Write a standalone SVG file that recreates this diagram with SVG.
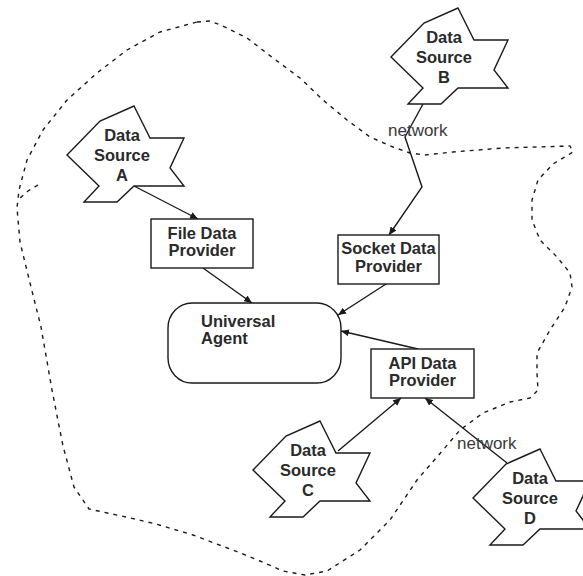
<svg xmlns="http://www.w3.org/2000/svg" xmlns:xlink="http://www.w3.org/1999/xlink" width="583" height="576" viewBox="0 0 583 576">
  <style>
    .shape { fill: #ffffff; stroke: #1a1a1a; stroke-width: 1.4; stroke-linejoin: miter; }
    .label { font-family: "Liberation Sans", Arial, sans-serif; font-size: 16.5px; font-weight: bold; fill: #2a2a2a; text-anchor: middle; }
    .label-left { font-family: "Liberation Sans", Arial, sans-serif; font-size: 16.5px; font-weight: bold; fill: #2a2a2a; }
    .net { font-family: "Liberation Sans", Arial, sans-serif; font-size: 17px; fill: #3a3a3a; }
    .edge { fill: none; stroke: #1a1a1a; stroke-width: 1.4; marker-end: url(#head); }
    .edge-plain { fill: none; stroke: #1a1a1a; stroke-width: 1.4; }
    .boundary { fill: none; stroke: #1a1a1a; stroke-width: 1.4; stroke-dasharray: 4 5; stroke-linejoin: round; }
  </style>
  <defs>
    <marker id="head" markerUnits="userSpaceOnUse" markerWidth="9" markerHeight="7" refX="8" refY="3.5" orient="auto">
      <path d="M0,0 L8,3.5 L0,7 z" fill="#1a1a1a"/>
    </marker>
    <!-- star-like data source outline, anchored at its top vertex -->
    <polygon id="source" points="0,0 16,32 50,32 36,62 50,80 0,80 -17,96 -50,96 -35,80 -67,49 -34,15"/>
  </defs>

  <rect width="583" height="576" fill="#ffffff"/>

  <!-- dashed system boundary -->
  <g id="boundary">
    <polyline class="boundary" points="197,22 210,21 223,26 247,38 273,58 300,78 323,100 347,120 370,137 393,147 410,153 425,155 453,152 503,148 570,146 573,152 553,164 538,180 532,200 532,220 540,240 557,257 570,273 572,287 565,307 550,330 537,353 537,373 538,390 530,398 510,402 483,413 460,430 443,450 417,480 390,520 360,550 327,571 305,575 283,571 260,561 238,552 193,535 156,524 126,517 89,509 74,487 63,446 52,390 41,327 30,283 20,242 17,208 19,190 27,160 43,130 67,100 97,73 127,50 160,32 197,22"/>
    <polyline class="boundary" points="38,185 28,191 19,199"/>
  </g>

  <!-- connectors -->
  <g id="connectors">
    <path class="edge" d="M134,186 L198,219"/>
    <path class="edge" d="M203,268 L252,303"/>
    <path class="edge" d="M423,104 L405,137 L422,187 L389,235"/>
    <path class="edge" d="M386,284 L338,315"/>
    <path class="edge" d="M418,349 L341,331"/>
    <path class="edge" d="M338,451 L401,398"/>
    <path class="edge" d="M507,463 L425,398"/>
  </g>

  <text class="net" x="388" y="136">network</text>
  <text class="net" x="457" y="449">network</text>

  <g id="source-a" transform="translate(134,106)">
    <use xlink:href="#source" class="shape"/>
    <text class="label" x="-12" y="35">Data</text>
    <text class="label" x="-12" y="55">Source</text>
    <text class="label" x="-12" y="75">A</text>
  </g>

  <g id="source-b" transform="translate(458,8)">
    <use xlink:href="#source" class="shape"/>
    <text class="label" x="-14" y="35">Data</text>
    <text class="label" x="-14" y="55">Source</text>
    <text class="label" x="-14" y="75">B</text>
  </g>

  <g id="source-c" transform="translate(320,421)">
    <use xlink:href="#source" class="shape"/>
    <text class="label" x="-12" y="35">Data</text>
    <text class="label" x="-12" y="55">Source</text>
    <text class="label" x="-12" y="75">C</text>
  </g>

  <g id="source-d" transform="translate(540,449)">
    <use xlink:href="#source" class="shape"/>
    <text class="label" x="-10" y="35">Data</text>
    <text class="label" x="-10" y="55">Source</text>
    <text class="label" x="-10" y="75">D</text>
  </g>

  <g id="file-provider">
    <rect class="shape" x="151" y="219" width="102" height="49"/>
    <text class="label" x="202" y="239">File Data</text>
    <text class="label" x="202" y="256">Provider</text>
  </g>

  <g id="socket-provider">
    <rect class="shape" x="338" y="235" width="101" height="49"/>
    <text class="label" x="388.5" y="254">Socket Data</text>
    <text class="label" x="388.5" y="272">Provider</text>
  </g>

  <g id="api-provider">
    <rect class="shape" x="371" y="349" width="103" height="49"/>
    <text class="label" x="422.5" y="369">API Data</text>
    <text class="label" x="422.5" y="386">Provider</text>
  </g>

  <g id="universal-agent">
    <rect class="shape" x="168" y="303" width="173" height="80" rx="24" ry="25"/>
    <text class="label-left" x="201" y="327">Universal</text>
    <text class="label-left" x="201" y="344">Agent</text>
  </g>
</svg>
